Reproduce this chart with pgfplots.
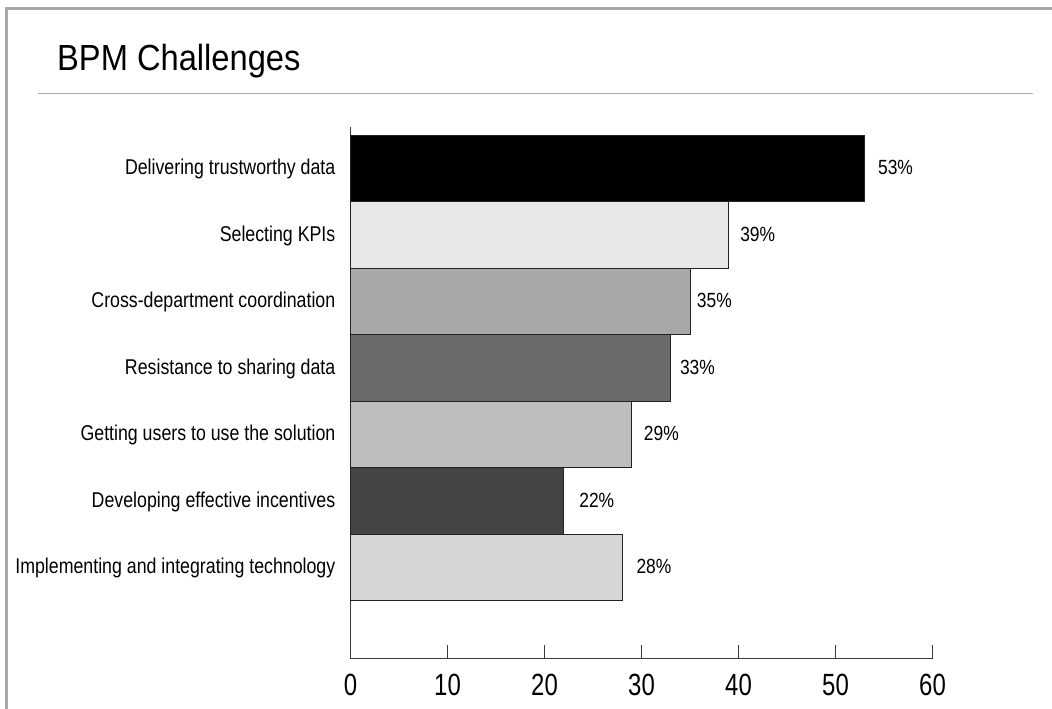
\documentclass[border=0pt]{standalone}
\usepackage{fontspec}
\setmainfont{Liberation Sans}[FakeStretch=0.83]
\newfontfamily\titlefont{Liberation Sans}[FakeStretch=0.9]
\newfontfamily\tickfont{Liberation Sans}[FakeStretch=0.78]
\newfontfamily\valfont{Liberation Sans}[FakeStretch=0.85]
\usepackage{pgfplots}
\pgfplotsset{compat=1.18}
\definecolor{framegray}{HTML}{A8A8A8}
\definecolor{sepgray}{HTML}{AAAAAA}
\definecolor{axisgray}{HTML}{3A3A3A}
\definecolor{barline}{HTML}{222222}
\definecolor{cA}{HTML}{000000}
\definecolor{cB}{HTML}{E8E8E8}
\definecolor{cC}{HTML}{A8A8A8}
\definecolor{cD}{HTML}{6B6B6B}
\definecolor{cE}{HTML}{BEBEBE}
\definecolor{cF}{HTML}{444444}
\definecolor{cG}{HTML}{D6D6D6}
\begin{document}
\begin{tikzpicture}[x=1bp,y=1bp]
\path[use as bounding box] (0,0) rectangle (1052,-709);
\draw[framegray, line width=2.7bp] (6.7,-709) -- (6.7,-8.3) -- (1052,-8.3);
\draw[sepgray, line width=1bp] (38,-94) -- (1033,-94);
\node[anchor=base west, inner sep=0pt, font=\titlefont\fontsize{36.3bp}{40bp}\selectfont] at (57,-71) {BPM Challenges};
\begin{axis}[
  at={(350.5bp,-658.5bp)}, anchor=south west,
  scale only axis, width=582bp, height=532bp,
  xmin=0, xmax=60, ymin=-0.368, ymax=7.632,
  axis x line*=bottom, axis y line*=left,
  axis line style={draw=axisgray, line width=1.3bp},
  xtick={0,10,...,60}, tick align=inside, major tick length=14bp,
  xtick style={draw=axisgray, line width=1.3bp},
  ytick={1,...,7},
  yticklabels={Implementing and integrating technology, Developing effective incentives, Getting users to use the solution, Resistance to sharing data, Cross-department coordination, Selecting KPIs, Delivering trustworthy data},
  ytick style={draw=none},
  yticklabel style={anchor=base east, inner sep=0pt, xshift=-1bp, yshift=-6.3bp, font=\fontsize{21.4bp}{24bp}\selectfont},
  xticklabel style={anchor=north, inner sep=0pt, yshift=-15bp, font=\tickfont\fontsize{30.7bp}{32bp}\selectfont},
  /pgf/number format/assume math mode=true,
  xbar, bar width=1,
  point meta=x,
  nodes near coords={\pgfmathprintnumber{\pgfplotspointmeta}\%},
  nodes near coords style={anchor=base west, inner sep=0pt, yshift=-6bp, font=\valfont\fontsize{20.5bp}{22bp}\selectfont, text=black},
  clip=false,
]
\addplot[bar shift=0pt, fill=cA, draw=barline, line width=0.9bp, nodes near coords style={xshift=13bp}] coordinates {(53,7)};
\addplot[bar shift=0pt, fill=cB, draw=barline, line width=0.9bp, nodes near coords style={xshift=11bp}] coordinates {(39,6)};
\addplot[bar shift=0pt, fill=cC, draw=barline, line width=0.9bp, nodes near coords style={xshift=6.5bp}] coordinates {(35,5)};
\addplot[bar shift=0pt, fill=cD, draw=barline, line width=0.9bp, nodes near coords style={xshift=9bp}] coordinates {(33,4)};
\addplot[bar shift=0pt, fill=cE, draw=barline, line width=0.9bp, nodes near coords style={xshift=11.7bp}] coordinates {(29,3)};
\addplot[bar shift=0pt, fill=cF, draw=barline, line width=0.9bp, nodes near coords style={xshift=15bp}] coordinates {(22,2)};
\addplot[bar shift=0pt, fill=cG, draw=barline, line width=0.9bp, nodes near coords style={xshift=14bp}] coordinates {(28,1)};
\end{axis}
\end{tikzpicture}
\end{document}
